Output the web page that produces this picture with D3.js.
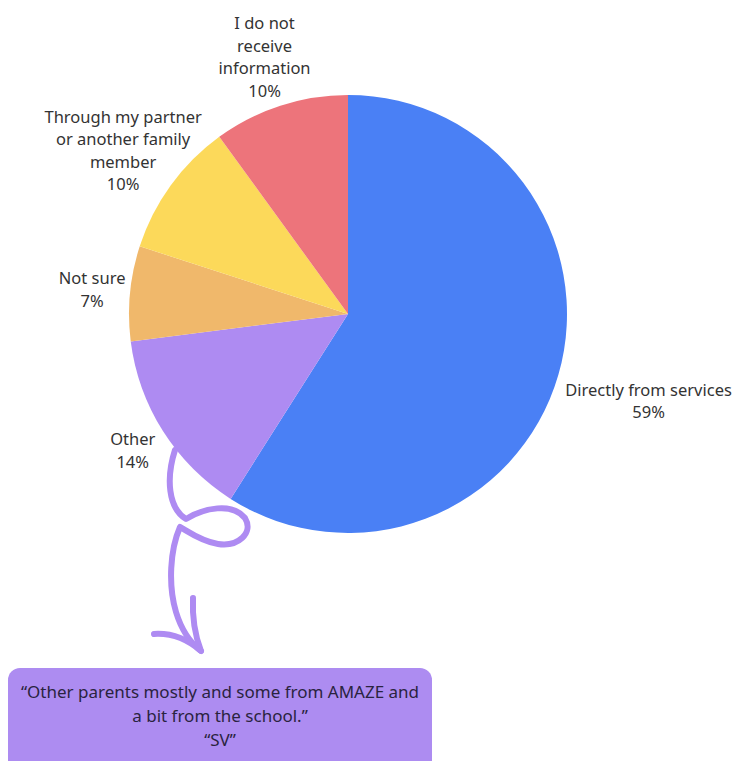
<!DOCTYPE html>
<html>
<head>
<meta charset="utf-8">
<script src="https://cdn.jsdelivr.net/npm/d3@7"></script>
<style>
  html, body { margin: 0; padding: 0; background: #ffffff; }
  svg { display: block; }
  text { font-family: "Noto Sans", "Open Sans", sans-serif; }
</style>
</head>
<body>
<div id="chart"></div>
<script>
// ---- data ----
const categories = [
  "Directly from services",
  "Other",
  "Not sure",
  "Through my partner or another family member",
  "I do not receive information"
];
const values = [59, 14, 7, 10, 10];
const labelLines = [
  ["Directly from services"],
  ["Other"],
  ["Not sure"],
  ["Through my partner", "or another family", "member"],
  ["I do not", "receive", "information"]
];
const colors = ["#4a80f5", "#ae8bf2", "#f0b86b", "#fcd95a", "#ed747b"];
const quoteLines = [
  "\u201COther parents mostly and some from AMAZE and",
  "a bit from the school.\u201D",
  "\u201CSV\u201D"
];

// ---- layout ----
const W = 734, H = 761;
const cx = 348, cy = 314, R = 219;
const labelRadius = [313, 255, 257, 278, 270];
const lineH = 22.5;

const svg = d3.select("#chart").append("svg")
  .attr("width", W).attr("height", H);

const pie = d3.pie().sort(null).value(d => d.value);
const arcs = pie(categories.map((c, i) => ({ cat: c, value: values[i], i })));
const arc = d3.arc().innerRadius(0).outerRadius(R);

const g = svg.append("g").attr("transform", `translate(${cx},${cy})`);
g.selectAll("path.slice").data(arcs).enter().append("path")
  .attr("class", "slice")
  .attr("d", arc)
  .attr("fill", d => colors[d.data.i]);

// labels
g.selectAll("text.lab").data(arcs).enter().append("text")
  .attr("class", "lab")
  .attr("text-anchor", "middle")
  .attr("font-size", 16.5)
  .attr("fill", "#333333")
  .each(function(d) {
    const i = d.data.i;
    const lr = labelRadius[i];
    const la = d3.arc().innerRadius(lr).outerRadius(lr);
    const [x, y] = la.centroid(d);
    const lines = labelLines[i].concat([d3.format(".0f")(d.data.value) + "%"]);
    const y0 = y - (lines.length - 1) * lineH / 2;
    const t = d3.select(this);
    lines.forEach((l, k) => {
      t.append("tspan").attr("x", x).attr("y", y0 + k * lineH)
        .attr("dy", "0.35em").text(l);
    });
  });

// curly arrow
const arrowColor = "#ae8bf2";
svg.append("path")
  .attr("d", "M175,450 C166,478 168,508 186,519 C204,508 232,502 245,518 C254,533 238,547 218,544 C200,541 186,530 180,527 C170,550 168,585 176,612 C182,632 192,644 201,651")
  .attr("fill", "none").attr("stroke", arrowColor)
  .attr("stroke-width", 6).attr("stroke-linecap", "round").attr("stroke-linejoin", "round");
svg.append("path")
  .attr("d", "M193,598 C192,620 196,638 201,651 C186,638 170,633 154,634")
  .attr("fill", "none").attr("stroke", arrowColor)
  .attr("stroke-width", 6).attr("stroke-linecap", "round").attr("stroke-linejoin", "round");

// quote box
svg.append("rect")
  .attr("x", 8).attr("y", 668).attr("width", 424).attr("height", 110)
  .attr("rx", 12).attr("fill", "#ad8cf1");
const q = svg.append("text")
  .attr("text-anchor", "middle")
  .attr("font-size", 17)
  .attr("fill", "#2a2340");
quoteLines.forEach((l, k) => {
  q.append("tspan").attr("x", 220).attr("y", 692 + k * 24)
    .attr("dy", "0.35em").text(l);
});
</script>
</body>
</html>
